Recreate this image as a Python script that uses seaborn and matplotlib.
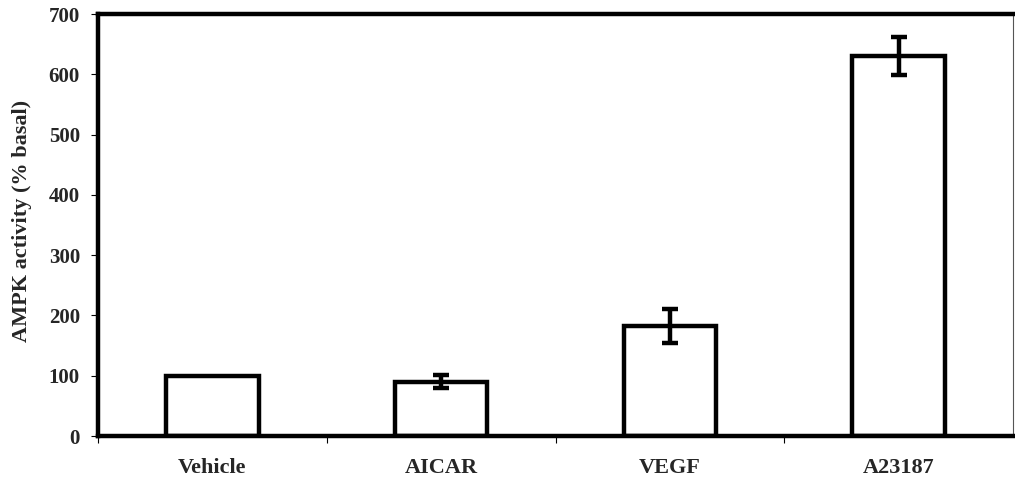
import matplotlib
matplotlib.use("Agg")
import matplotlib.pyplot as plt
import seaborn as sns
import pandas as pd
import numpy as np
from matplotlib.ticker import FixedLocator

categories = ["Vehicle", "AICAR", "VEGF", "A23187"]
values = [100, 90, 182, 630]
errors = [0, 11, 28, 32]
y_ticks = [0, 100, 200, 300, 400, 500, 600, 700]

sns.set_theme(style="white")
plt.rcParams["font.family"] = ["Liberation Serif", "DejaVu Serif"]
plt.rcParams["font.weight"] = "bold"

df = pd.DataFrame({"treatment": categories, "activity": values})

fig = plt.figure(figsize=(10.15, 4.83), dpi=100)
ax = fig.add_axes([0.0966, 0.0973, 0.9014, 0.8737])

sns.barplot(data=df, x="treatment", y="activity", order=categories,
            color="white", edgecolor="black", linewidth=3.2, width=0.405,
            errorbar=None, ax=ax)

for i, (v, e) in enumerate(zip(values, errors)):
    if e > 0:
        ax.errorbar(i, v, yerr=e, fmt="none", ecolor="black",
                    elinewidth=3.2, capsize=5.5, capthick=3.2, zorder=5)

ax.set_xlim(-0.5, 3.5)
ax.set_ylim(0, 700)
ax.set_yticks(y_ticks)
ax.set_yticklabels([str(t) for t in y_ticks], fontsize=15, fontweight="bold")
ax.set_xticks(range(len(categories)))
ax.set_xticklabels(categories, fontsize=16, fontweight="bold")
ax.xaxis.set_minor_locator(FixedLocator([-0.5, 0.5, 1.5, 2.5]))
ax.tick_params(axis="x", which="major", length=0, pad=16)
ax.tick_params(axis="x", which="minor", length=5, width=0.8, color="black",
               direction="out", bottom=True)
ax.tick_params(axis="y", which="major", length=5, width=0.8, color="black",
               direction="out", left=True, pad=8)
ax.set_xlabel("")
ax.set_ylabel("AMPK activity (% basal)", fontsize=16, fontweight="bold")
ax.yaxis.set_label_coords(-0.072, 0.51)

for s in ["left", "bottom", "top"]:
    ax.spines[s].set_linewidth(3.2)
    ax.spines[s].set_color("black")
ax.spines["right"].set_linewidth(0.8)
ax.spines["right"].set_color("#555555")

fig.savefig("out.png", dpi=100, facecolor="white")
